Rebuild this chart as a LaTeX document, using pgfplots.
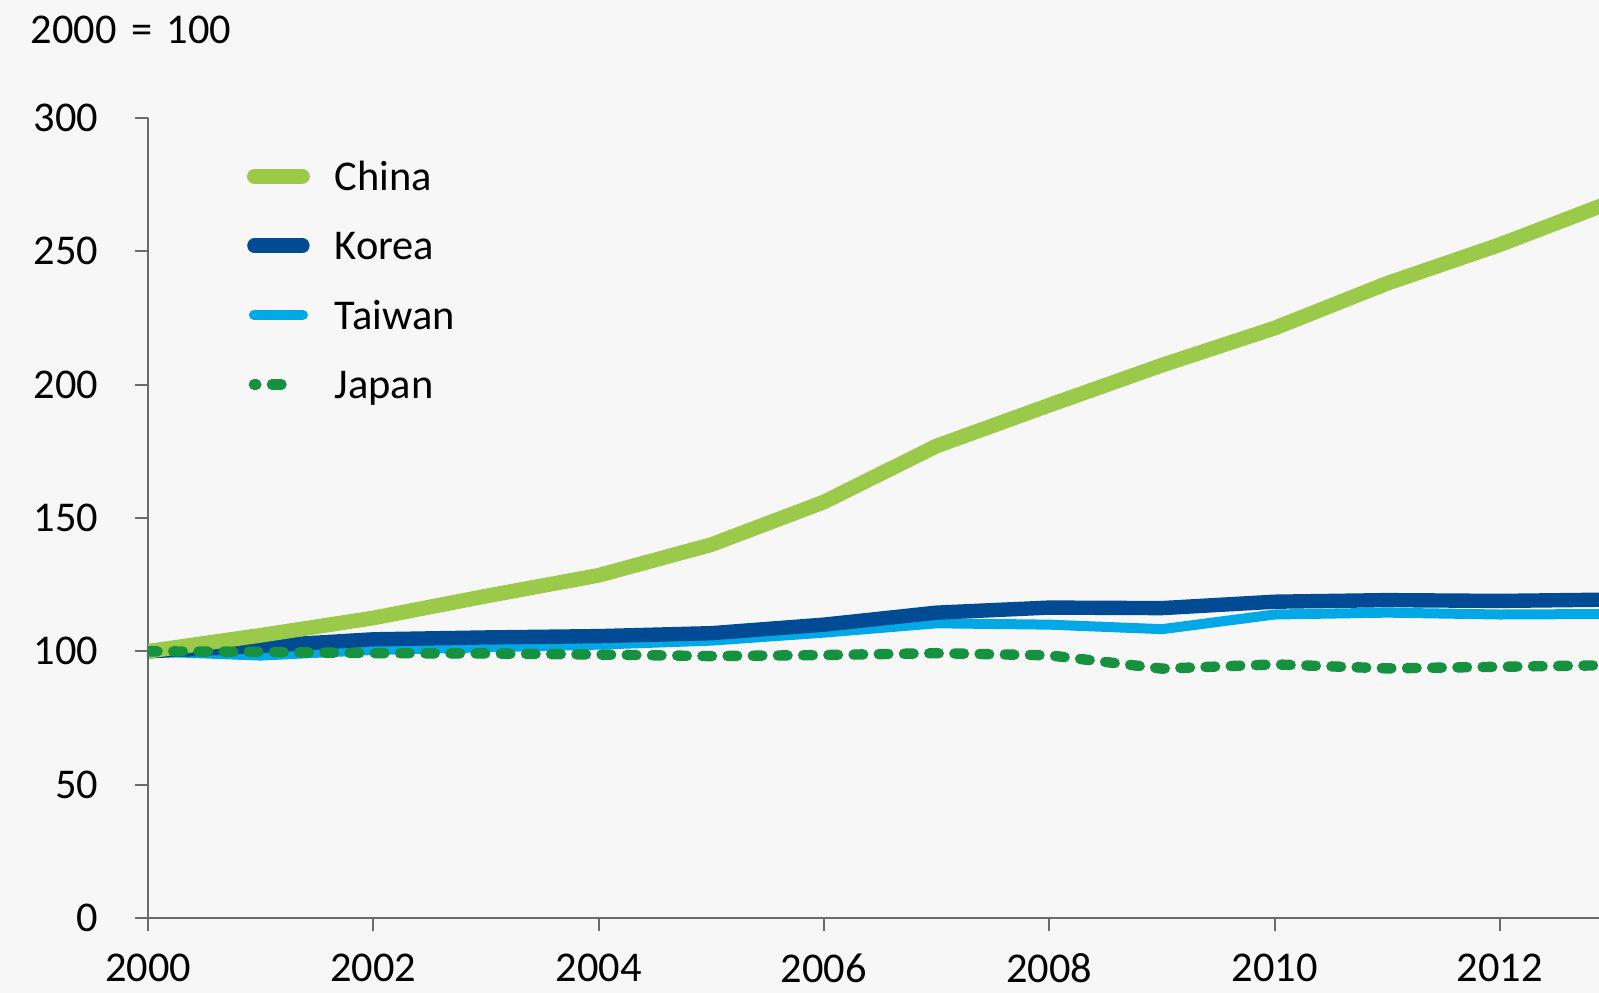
\documentclass[border=0pt]{standalone}
\usepackage{fontspec}
\setmainfont{Carlito}
\usepackage{pgfplots}
\pgfplotsset{compat=1.18}
\definecolor{bg}{HTML}{F7F7F7}
\definecolor{china}{HTML}{9BCA4A}
\definecolor{korea}{HTML}{004B93}
\definecolor{taiwan}{HTML}{00A9E6}
\definecolor{japan}{HTML}{15913F}
\definecolor{axisgray}{HTML}{6B6B6B}

\pgfplotstableread{
year china korea taiwan japan
2000 100   100   100   100
2001 106   102   98.4  99.8
2002 112.5 104.5 100.5 99.3
2003 120.7 105.2 101.5 99.2
2004 128.5 105.7 102.5 98.8
2005 140   106.8 104   98.2
2006 156   110   107   98.6
2007 177   114.5 110.5 99.3
2008 192.3 116.4 110   98.5
2009 207.3 116.2 108.3 93.5
2010 221.2 118.6 113.8 95.1
2011 238   119.2 114.5 93.6
2012 252.5 118.9 113.8 94.2
2013 268.7 119.4 114   94.8
}\datatable

\begin{document}
\fontsize{10.6}{12.7}\selectfont
\begin{tikzpicture}
\fill[bg] (0,0) rectangle (399.75pt,248.25pt);
\path[use as bounding box] (0,0) rectangle (399.75pt,248.25pt);
\node[anchor=base west, inner sep=0pt, font=\fontsize{10.6}{12.7}\selectfont] at (7.5pt,237.25pt) {2000\hspace{3.6pt}=\hspace{3.6pt}100};
\begin{axis}[
  at={(37pt,18.75pt)}, anchor=south west,
  scale only axis, width=362.75pt, height=200pt,
  xmin=2000, xmax=2012.88, ymin=0, ymax=300,
  axis x line=bottom, axis y line=left,
  axis line style={-, draw=axisgray, line width=0.5pt},
  xtick={2000,2002,...,2012}, ytick={0,50,...,300},
  tick style={draw=axisgray, line width=0.5pt},
  tick align=outside, major tick length=3.2pt,
  /pgf/number format/assume math mode=true,
  /pgf/number format/1000 sep={},
  tick label style={font=\fontsize{10.6}{12.7}\selectfont, text=black},
  yticklabel style={inner sep=0pt, xshift=-9pt},
  xticklabel style={inner sep=0pt, yshift=-5.5pt},
  legend cell align=left,
  legend style={at={(0.06823,0.96425)}, anchor=north west, draw=none, fill=none,
    inner sep=0pt, outer sep=0pt, row sep=4.35pt,
    nodes={inner sep=0pt, text height=8pt, text depth=2pt, font=\fontsize{10.6}{12.7}\selectfont},
    /tikz/every odd column/.append style={column sep=6.25pt}},
]
\addlegendimage{legend image code/.code={\path[draw=none,fill=none] (0pt,0pt) rectangle (15.25pt,8pt); \draw[china, line width=3.7pt, line cap=round] (1.625pt,0.6pt) -- (13.625pt,0.6pt);}}
\addlegendentry{China}
\addlegendimage{legend image code/.code={\path[draw=none,fill=none] (0pt,0pt) rectangle (15.25pt,8pt); \draw[korea, line width=3.6pt, line cap=round] (1.625pt,0.6pt) -- (13.625pt,0.6pt);}}
\addlegendentry{Korea}
\addlegendimage{legend image code/.code={\path[draw=none,fill=none] (0pt,0pt) rectangle (15.25pt,8pt); \draw[taiwan, line width=2.5pt, line cap=round] (1.5pt,0.6pt) -- (13.75pt,0.6pt);}}
\addlegendentry{Taiwan}
\addlegendimage{legend image code/.code={\path[draw=none,fill=none] (0pt,0pt) rectangle (15.25pt,8pt); \draw[japan, line width=2.6pt, line cap=round, dash pattern=on 2.4pt off 3.9pt, dash phase=1.8pt] (1.5pt,0.6pt) -- (11.5pt,0.6pt);}}
\addlegendentry{Japan}

\addplot[forget plot, taiwan, line width=2.5pt, line join=round] table[x=year, y=taiwan] {\datatable};
\addplot[forget plot, korea, line width=3.6pt, line join=round] table[x=year, y=korea] {\datatable};
\addplot[forget plot, china, line width=3.7pt, line join=round] table[x=year, y=china] {\datatable};
\addplot[forget plot, japan, line width=2.6pt, line join=round, line cap=round, dash pattern=on 2.4pt off 3.9pt] table[x=year, y=japan] {\datatable};
\end{axis}
\end{tikzpicture}
\end{document}
